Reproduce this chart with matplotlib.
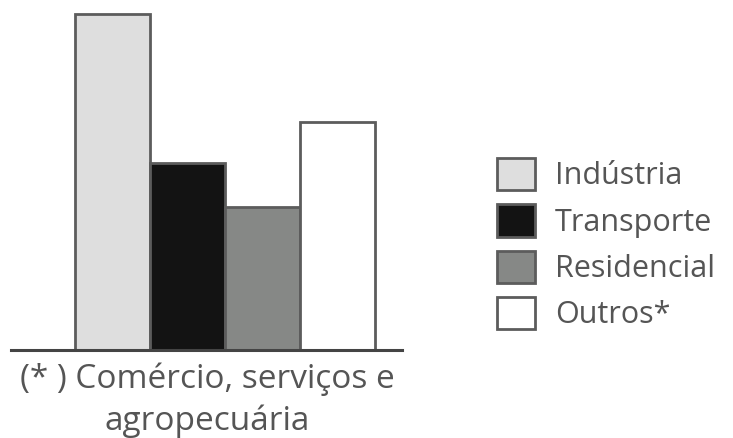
import matplotlib
matplotlib.use("Agg")
import matplotlib.pyplot as plt

plt.rcParams['font.family'] = ['Open Sans', 'DejaVu Sans']

categories = ["Indústria", "Transporte", "Residencial", "Outros*"]
values = [37.6, 20.9, 16.0, 25.5]
colors = ["#dedede", "#131313", "#868886", "#ffffff"]
footnote = "(* ) Comércio, serviços e\nagropecuária"

W, H = 733, 438
fig = plt.figure(figsize=(W / 100, H / 100), dpi=100)

# axes spans the baseline (x 11..402 px), from baseline y=350 up to y=14
ax = fig.add_axes([11 / W, (H - 350) / H, (402 - 11) / W, (350 - 14) / H])
x = range(len(categories))
bars = ax.bar(x, values, width=1.0, color=colors, edgecolor="#5c5c5c",
              linewidth=2, label=categories)
ax.set_xlim(-0.5 - 64 / 75, 3.5 + 27 / 75)
ax.set_ylim(0, max(values))
for s in ["top", "left", "right"]:
    ax.spines[s].set_visible(False)
ax.spines["bottom"].set_color("#444444")
ax.spines["bottom"].set_linewidth(2.2)
ax.set_xticks([])
ax.set_yticks([])
ax.patch.set_alpha(0)
for b in bars:
    b.set_clip_on(False)

fs = 22
leg = fig.legend(bars, categories, loc="upper left",
                 bbox_to_anchor=(497 / W, (H - 158) / H),
                 frameon=False, fontsize=fs, borderpad=0, borderaxespad=0,
                 handlelength=1.24, handleheight=1.25, handletextpad=0.65,
                 labelspacing=0.42, labelcolor="#555555")

fig.text(207 / W, (H - 362) / H, footnote, ha="center", va="top",
         fontsize=24, color="#555555", multialignment="center",
         linespacing=1.35)

fig.savefig("out.png", dpi=100)
